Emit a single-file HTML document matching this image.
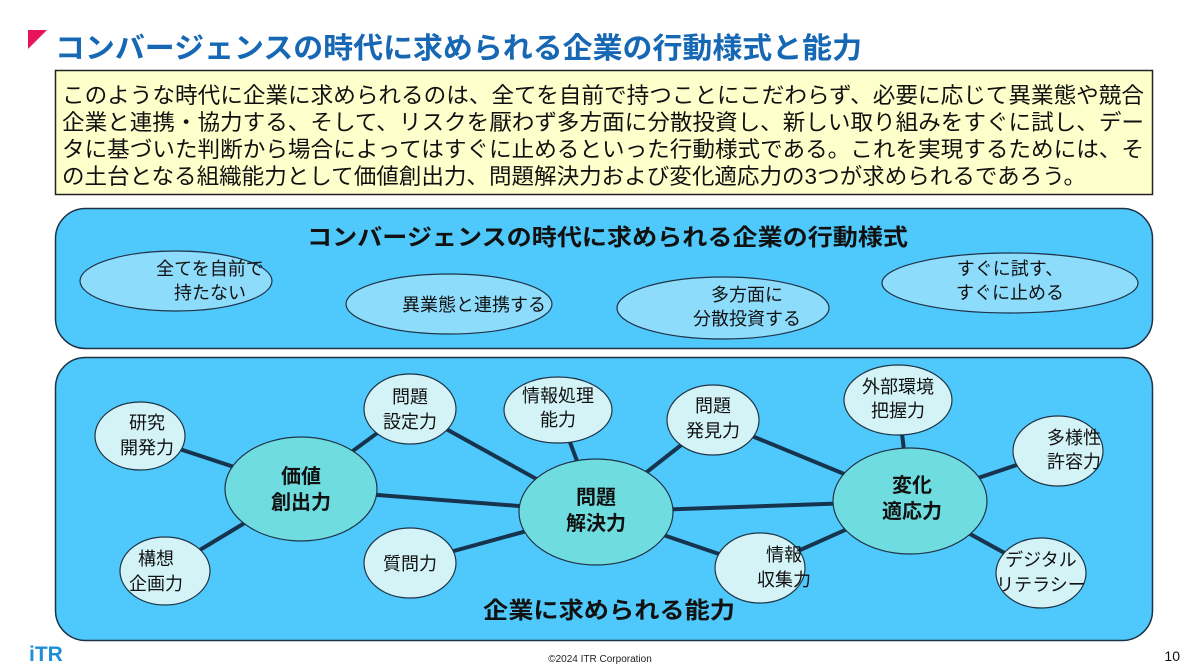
<!DOCTYPE html>
<html><head><meta charset="utf-8"><style>
html,body{margin:0;padding:0;background:#fff;width:1200px;height:672px;overflow:hidden}
svg{display:block}
text{font-family:"Liberation Sans","Noto Sans CJK JP",sans-serif}
</style></head><body>
<svg width="1200" height="672" viewBox="0 0 1200 672" xmlns="http://www.w3.org/2000/svg">
<polygon points="28,30 47,30 28,49" fill="#e8145a"/>
<text x="55" y="58" font-size="29" font-weight="bold" fill="#1668b4" textLength="807" lengthAdjust="spacingAndGlyphs">コンバージェンスの時代に求められる企業の行動様式と能力</text>
<rect x="55.5" y="70.5" width="1097" height="124" fill="#ffffcc" stroke="#222" stroke-width="1.5"/>
<g font-size="22" fill="#111">
<text x="62" y="103" textLength="1082" lengthAdjust="spacingAndGlyphs">このような時代に企業に求められるのは、全てを自前で持つことにこだわらず、必要に応じて異業態や競合</text>
<text x="62" y="130" textLength="1082" lengthAdjust="spacingAndGlyphs">企業と連携・協力する、そして、リスクを厭わず多方面に分散投資し、新しい取り組みをすぐに試し、デー</text>
<text x="62" y="157" textLength="1082" lengthAdjust="spacingAndGlyphs">タに基づいた判断から場合によってはすぐに止めるといった行動様式である。これを実現するためには、そ</text>
<text x="62" y="184" textLength="1024" lengthAdjust="spacingAndGlyphs">の土台となる組織能力として価値創出力、問題解決力および変化適応力の3つが求められるであろう。</text>
</g>
<rect x="55.5" y="208.5" width="1097" height="140" rx="30" fill="#4fc9fb" stroke="#1f3347" stroke-width="1.5"/>
<text x="307" y="245" font-size="23" font-weight="bold" fill="#111" textLength="601" lengthAdjust="spacingAndGlyphs">コンバージェンスの時代に求められる企業の行動様式</text>
<g fill="#8edcfc" stroke="#1f3347" stroke-width="1.2">
<ellipse cx="176" cy="281" rx="96" ry="30"/>
<ellipse cx="449" cy="304" rx="103" ry="30"/>
<ellipse cx="723" cy="308" rx="106" ry="31"/>
<ellipse cx="1010" cy="283" rx="128" ry="30"/>
</g>
<g font-size="18" fill="#111" text-anchor="middle">
<text x="210" y="275">全てを自前で</text><text x="210" y="299">持たない</text>
<text x="474" y="311">異業態と連携する</text>
<text x="747" y="301">多方面に</text><text x="747" y="325">分散投資する</text>
<text x="1010" y="275">すぐに試す、</text><text x="1010" y="299">すぐに止める</text>
</g>
<rect x="55.5" y="357.5" width="1097" height="283" rx="30" fill="#4fc9fb" stroke="#1f3347" stroke-width="1.5"/>
<g stroke="#17344f" stroke-width="4">
<line x1="140" y1="436" x2="301" y2="489"/>
<line x1="165" y1="571" x2="301" y2="489"/>
<line x1="410" y1="409" x2="301" y2="489"/>
<line x1="301" y1="489" x2="596" y2="512"/>
<line x1="410" y1="409" x2="596" y2="512"/>
<line x1="410" y1="563" x2="596" y2="512"/>
<line x1="558" y1="410" x2="596" y2="512"/>
<line x1="713" y1="420" x2="596" y2="512"/>
<line x1="713" y1="420" x2="910" y2="501"/>
<line x1="596" y1="512" x2="910" y2="501"/>
<line x1="760" y1="568" x2="596" y2="512"/>
<line x1="760" y1="568" x2="910" y2="501"/>
<line x1="898" y1="400" x2="910" y2="501"/>
<line x1="1058" y1="451" x2="910" y2="501"/>
<line x1="1041" y1="573" x2="910" y2="501"/>
</g>
<g fill="#d3f3f7" stroke="#1f3347" stroke-width="1.2">
<ellipse cx="140" cy="436" rx="45" ry="34"/>
<ellipse cx="165" cy="571" rx="45" ry="34"/>
<ellipse cx="410" cy="409" rx="46" ry="35"/>
<ellipse cx="410" cy="563" rx="46" ry="35"/>
<ellipse cx="558" cy="410" rx="54" ry="33"/>
<ellipse cx="713" cy="420" rx="46" ry="35"/>
<ellipse cx="760" cy="568" rx="45" ry="35"/>
<ellipse cx="898" cy="400" rx="54" ry="35"/>
<ellipse cx="1058" cy="451" rx="45" ry="35"/>
<ellipse cx="1041" cy="573" rx="45" ry="35"/>
</g>
<g fill="#6fdcdf" stroke="#1f3347" stroke-width="1.2">
<ellipse cx="301" cy="489" rx="76" ry="52"/>
<ellipse cx="596" cy="512" rx="77" ry="53"/>
<ellipse cx="910" cy="501" rx="77" ry="53"/>
</g>
<g font-size="18" fill="#111" text-anchor="middle">
<text x="147" y="429">研究</text><text x="147" y="454">開発力</text>
<text x="156" y="565">構想</text><text x="156" y="590">企画力</text>
<text x="410" y="403">問題</text><text x="410" y="428">設定力</text>
<text x="410" y="570">質問力</text>
<text x="558" y="402">情報処理</text><text x="558" y="426">能力</text>
<text x="713" y="412">問題</text><text x="713" y="437">発見力</text>
<text x="784" y="561">情報</text><text x="784" y="586">収集力</text>
<text x="898" y="393">外部環境</text><text x="898" y="417">把握力</text>
<text x="1074" y="444">多様性</text><text x="1074" y="468">許容力</text>
<text x="1041" y="566">デジタル</text><text x="1041" y="591">リテラシー</text>
</g>
<g font-size="20" font-weight="bold" fill="#111" text-anchor="middle">
<text x="301" y="483">価値</text><text x="301" y="509">創出力</text>
<text x="596" y="504">問題</text><text x="596" y="530">解決力</text>
<text x="912" y="492">変化</text><text x="912" y="518">適応力</text>
</g>
<text x="483" y="618" font-size="23" font-weight="bold" fill="#111" textLength="252" lengthAdjust="spacingAndGlyphs">企業に求められる能力</text>
<text x="29" y="661" font-size="21" font-weight="bold" fill="#1d8ed8">iTR</text>
<text x="600" y="662" font-size="10" text-anchor="middle" fill="#222">©2024 ITR Corporation</text>
<text x="1180" y="661" font-size="14" text-anchor="end" fill="#111">10</text>
</svg>
</body></html>
